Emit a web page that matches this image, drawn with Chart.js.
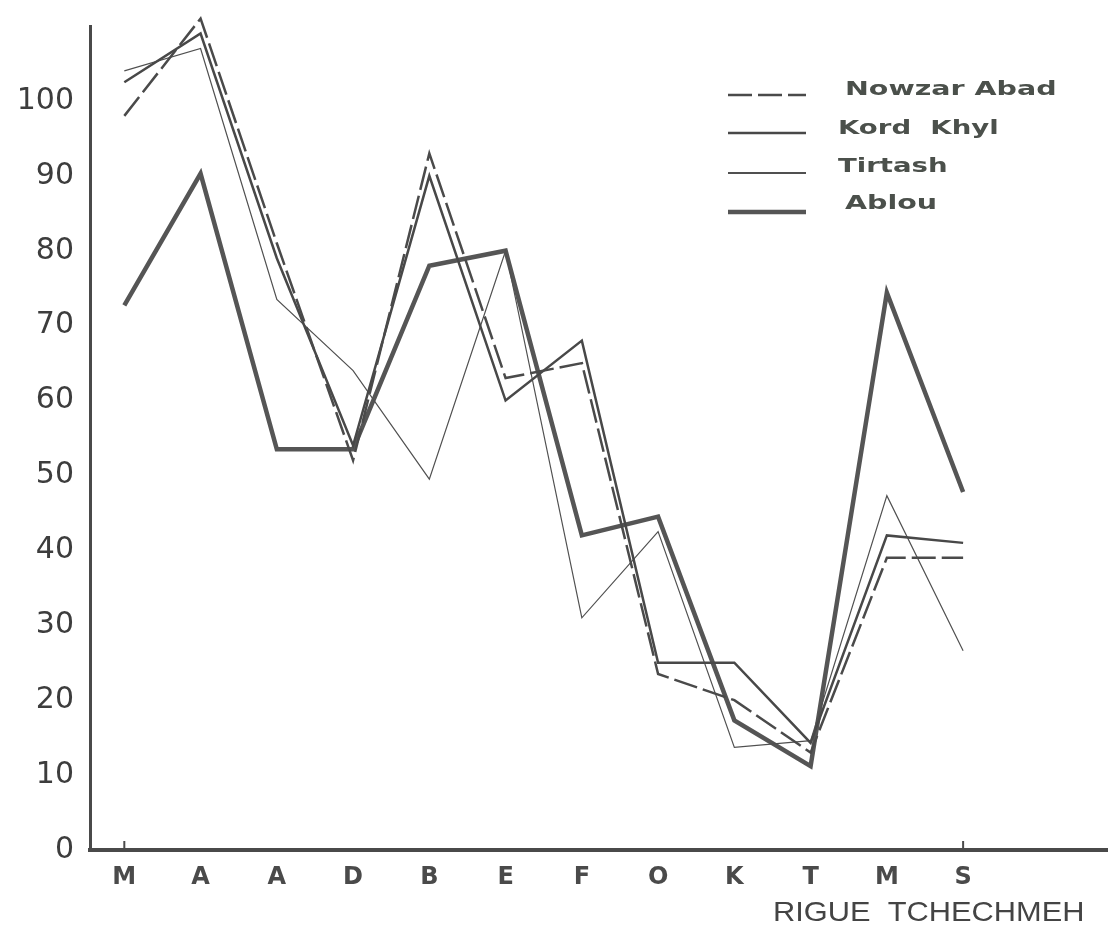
<!DOCTYPE html>
<html>
<head>
<meta charset="utf-8">
<script src="https://cdn.jsdelivr.net/npm/chart.js@4.4.1/dist/chart.umd.min.js"></script>
<style>
  html, body { margin: 0; padding: 0; background: #ffffff; }
  #wrap { width: 1108px; height: 931px; }
</style>
</head>
<body>
<div id="wrap"><canvas id="c" width="1108" height="931"></canvas></div>
<script>
// ---- data ----
const categories = ['M', 'A', 'A', 'D', 'B', 'E', 'F', 'O', 'K', 'T', 'M', 'S'];
const seriesNames = ['Nowzar Abad', 'Kord  Khyl', 'Tirtash', 'Ablou'];
const nowzarAbad = [98, 111, 81, 52, 93, 63, 65, 23.5, 20, 13, 39, 39];
const kordKhyl   = [102.5, 109, 79, 54, 90, 60, 68, 25, 25, 14.3, 42, 41];
const tirtash    = [104, 107, 73.5, 64, 49.5, 80, 31, 42.5, 13.7, 14.6, 47.3, 26.6];
const ablou      = [72.7, 90.3, 53.5, 53.5, 78, 80, 42, 44.5, 17.3, 11.2, 74.4, 47.8];
const yTickValues = [0, 10, 20, 30, 40, 50, 60, 70, 80, 90, 100];
const xAxisTitle = 'RIGUE  TCHECHMEH';

const toPts = arr => arr.map((v, i) => ({ x: i, y: v }));
const ink = '#4a4a4a';

const legendPlugin = {
  id: 'customLegend',
  afterDraw(chart) {
    const ctx = chart.ctx;
    const rows = [
      { ly: 95, ty: 90, tx: 845, sx: 1.5 },
      { ly: 133, ty: 129, tx: 838, sx: 1.45 },
      { ly: 173, ty: 167, tx: 838, sx: 1.45 },
      { ly: 212, ty: 204, tx: 845, sx: 1.5 }
    ];
    chart.data.datasets.forEach((ds, i) => {
      const r = rows[i];
      ctx.save();
      ctx.strokeStyle = ds.borderColor;
      ctx.lineWidth = Math.max(ds.borderWidth, 2);
      ctx.setLineDash(ds.borderDash || []);
      ctx.beginPath();
      ctx.moveTo(728, r.ly);
      ctx.lineTo(806, r.ly);
      ctx.stroke();
      ctx.restore();
      ctx.save();
      ctx.fillStyle = '#4b504b';
      ctx.font = 'bold 19px "DejaVu Sans"';
      ctx.textBaseline = 'middle';
      ctx.translate(r.tx, r.ty);
      ctx.scale(r.sx, 1);
      ctx.fillText(ds.label, 0, 0);
      ctx.restore();
    });
    // tick marks at first and last category, pointing up
    const xs = chart.scales.x;
    const ys = chart.scales.y;
    ctx.save();
    ctx.strokeStyle = ink;
    ctx.lineWidth = 2;
    [0, categories.length - 1].forEach(v => {
      const px = xs.getPixelForValue(v);
      ctx.beginPath();
      ctx.moveTo(px, ys.bottom);
      ctx.lineTo(px, ys.bottom - 9);
      ctx.stroke();
    });
    ctx.restore();
    // x-axis title
    ctx.save();
    ctx.fillStyle = '#444';
    ctx.font = '28px "Liberation Sans"';
    ctx.textBaseline = 'middle';
    ctx.translate(773, 913);
    ctx.scale(1.1, 1);
    ctx.fillText(xAxisTitle, 0, 0);
    ctx.restore();
  }
};

const baseDs = { pointRadius: 0, tension: 0, fill: false, clip: false, borderJoinStyle: 'miter' };

new Chart(document.getElementById('c'), {
  type: 'line',
  data: {
    datasets: [
      Object.assign({ label: seriesNames[0], data: toPts(nowzarAbad), borderColor: '#4a4a4a', borderWidth: 2.5, borderDash: [24, 6] }, baseDs),
      Object.assign({ label: seriesNames[1], data: toPts(kordKhyl), borderColor: '#484848', borderWidth: 2.5 }, baseDs),
      Object.assign({ label: seriesNames[2], data: toPts(tirtash), borderColor: '#505050', borderWidth: 1.2 }, baseDs),
      Object.assign({ label: seriesNames[3], data: toPts(ablou), borderColor: '#555555', borderWidth: 4.5 }, baseDs)
    ]
  },
  options: {
    responsive: false,
    animation: false,
    layout: { padding: { top: 23, right: 0, bottom: 0, left: 0 } },
    plugins: { legend: { display: false }, tooltip: { enabled: false } },
    scales: {
      x: {
        type: 'linear',
        min: -0.45,
        max: 12.9,
        afterFit(scale) { scale.height = 81; },
        grid: { display: false },
        border: { display: true, width: 4, color: ink },
        ticks: {
          stepSize: 1,
          includeBounds: false,
          autoSkip: false,
          maxRotation: 0,
          padding: 5,
          color: '#4a4a4a',
          font: { family: '"DejaVu Sans"', size: 24, weight: 'bold' },
          callback: v => (Number.isInteger(v) && v >= 0 && v < categories.length) ? categories[v] : ''
        }
      },
      y: {
        type: 'linear',
        min: 0,
        max: 110,
        afterFit(scale) { scale.width = 90; },
        grid: { display: false },
        border: { display: true, width: 3, color: ink },
        afterBuildTicks(scale) { scale.ticks = yTickValues.map(v => ({ value: v })); },
        ticks: {
          padding: 8,
          color: '#3d3d3d',
          font: { family: '"DejaVu Sans"', size: 30 },
          callback: v => String(v)
        }
      }
    }
  },
  plugins: [legendPlugin]
});
</script>
</body>
</html>
